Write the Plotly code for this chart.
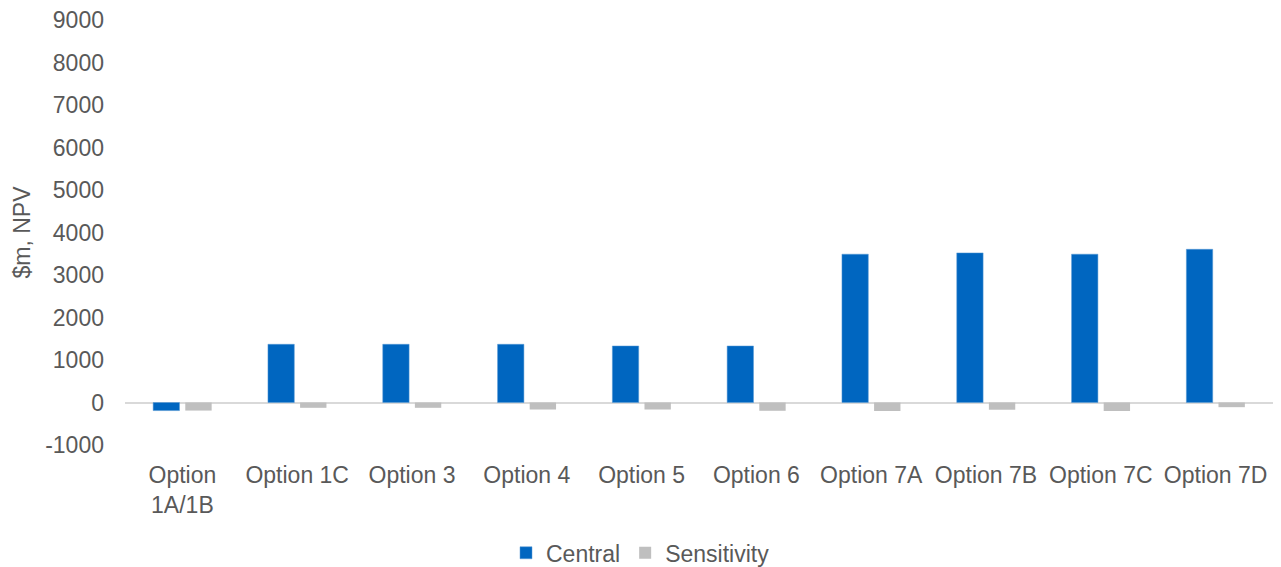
import plotly.graph_objects as go

categories = ["Option<br>1A/1B", "Option 1C", "Option 3", "Option 4", "Option 5",
              "Option 6", "Option 7A", "Option 7B", "Option 7C", "Option 7D"]
central = [-190, 1370, 1370, 1370, 1330, 1330, 3490, 3520, 3490, 3605]
sensitivity = [-190, -125, -125, -165, -165, -195, -200, -170, -200, -110]
y_ticks = [-1000, 0, 1000, 2000, 3000, 4000, 5000, 6000, 7000, 8000, 9000]
y_tick_text = ["-1000", "0", "1000", "2000", "3000", "4000", "5000", "6000", "7000", "8000", "9000"]

font_family = "Liberation Sans, Arial, sans-serif"
text_color = "#595959"
fs = 23

fig = go.Figure()
fig.add_trace(go.Bar(name="Central", x=categories, y=central,
                     marker=dict(color="#0066C0", line=dict(color="#5B9BD5", width=0.5))))
fig.add_trace(go.Bar(name="Sensitivity", x=categories, y=sensitivity,
                     marker=dict(color="#BFBFBF", line=dict(width=0))))

fig.update_layout(
    width=1281, height=567,
    margin=dict(l=125, r=8, t=20, b=122, autoexpand=False),
    paper_bgcolor="white", plot_bgcolor="white",
    barmode="group", bargap=0.44, bargroupgap=0.18,
    font=dict(family=font_family, size=fs, color=text_color),
    showlegend=True,
    legend=dict(orientation="h", xref="container", x=0.5, xanchor="center",
                yref="container", y=0.025, yanchor="middle",
                font=dict(size=fs, color=text_color), itemwidth=30, traceorder="normal"),
)
fig.update_xaxes(showgrid=False, showline=False, ticks="", ticklabelstandoff=14,
                 tickfont=dict(size=fs, color=text_color))
fig.update_yaxes(range=[-1000, 9000], tickvals=y_ticks, ticktext=y_tick_text,
                 showgrid=False, showline=False,
                 zeroline=True, zerolinecolor="#D9D9D9", zerolinewidth=2,
                 ticks="", ticklabelstandoff=20,
                 tickfont=dict(size=fs, color=text_color),
                 title=dict(text="$m, NPV", font=dict(size=fs, color=text_color), standoff=8))

fig.write_html("out.html")
